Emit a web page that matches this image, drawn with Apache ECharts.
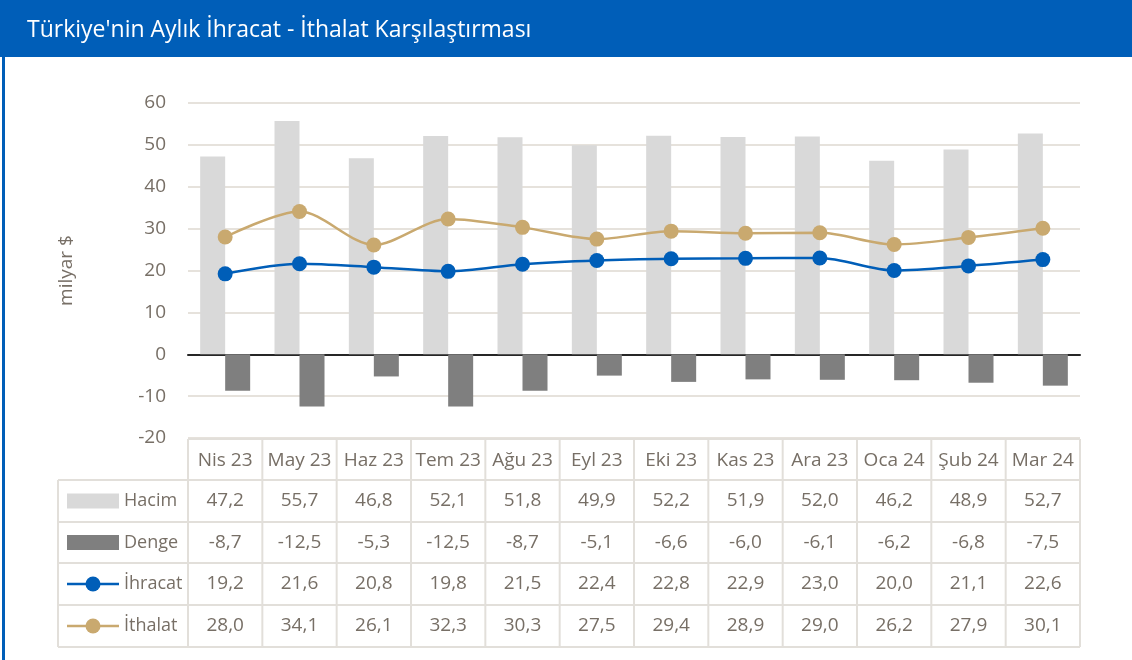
<!DOCTYPE html>
<html>
<head>
<meta charset="utf-8">
<script src="https://cdn.jsdelivr.net/npm/echarts@6/dist/echarts.min.js"></script>
<style>
html,body{margin:0;padding:0;background:#fff;}
#chart{width:1132px;height:660px;}
</style>
</head>
<body>
<div id="chart"></div>
<script>
const titleText = "Türkiye'nin Aylık İhracat - İthalat Karşılaştırması";
const categories = ['Nis 23','May 23','Haz 23','Tem 23','Ağu 23','Eyl 23','Eki 23','Kas 23','Ara 23','Oca 24','Şub 24','Mar 24'];
const hacim = [47.2,55.7,46.8,52.1,51.8,49.9,52.2,51.9,52.0,46.2,48.9,52.7];
const denge = [-8.7,-12.5,-5.3,-12.5,-8.7,-5.1,-6.6,-6.0,-6.1,-6.2,-6.8,-7.5];
const ihracat = [19.2,21.6,20.8,19.8,21.5,22.4,22.8,22.9,23.0,20.0,21.1,22.6];
const ithalat = [28.0,34.1,26.1,32.3,30.3,27.5,29.4,28.9,29.0,26.2,27.9,30.1];
const seriesNames = ['Hacim','Denge','İhracat','İthalat'];
const yTicks = {min:-20, max:60, interval:10};

const C = {
  hacim:'#d9d9d9', denge:'#7f7f7f', ihr:'#005eb8', ith:'#c9a96f',
  text:'#776f66', grid:'#e6e2dc', tbl:'#e2dfda', title:'#005eb8'
};
const FONT = '"Open Sans", "Noto Sans", sans-serif';
const FS = 19;

const chart = echarts.init(document.getElementById('chart'), null, {renderer:'canvas'});
chart.setOption({
  animation:false,
  backgroundColor:'#fff',
  grid:{left:188, right:52, top:103, bottom:222, containLabel:false, outerBoundsMode:'none'},
  xAxis:{
    type:'category', data:categories,
    axisLine:{show:true, onZero:true, lineStyle:{color:'#262626', width:2}},
    axisTick:{show:false}, axisLabel:{show:false}, splitLine:{show:false}
  },
  yAxis:{
    type:'value', min:yTicks.min, max:yTicks.max, interval:yTicks.interval,
    name:'milyar $', nameLocation:'middle', nameGap:112, nameRotate:90,
    nameTextStyle:{color:C.text, fontSize:FS, fontFamily:FONT},
    axisLine:{show:false}, axisTick:{show:false},
    axisLabel:{color:C.text, fontSize:FS, fontFamily:FONT, margin:22},
    splitLine:{show:true, lineStyle:{color:C.grid, width:2}}
  },
  series:[
    {name:seriesNames[0], type:'bar', data:hacim, barWidth:25, barGap:'0%', itemStyle:{color:C.hacim}, z:1},
    {name:seriesNames[1], type:'bar', data:denge, barWidth:25, barGap:'0%', itemStyle:{color:C.denge}, z:1},
    {name:seriesNames[2], type:'line', data:ihracat, smooth:0.3, symbol:'circle', symbolSize:15,
     lineStyle:{color:C.ihr, width:2.5}, itemStyle:{color:C.ihr}, z:5},
    {name:seriesNames[3], type:'line', data:ithalat, smooth:0.3, symbol:'circle', symbolSize:15,
     lineStyle:{color:C.ith, width:2.5}, itemStyle:{color:C.ith}, z:5}
  ]
});

// Build title bar and data table
const fmt = v => v.toFixed(1).replace('.', ',');
const centers = categories.map((c,i)=>chart.convertToPixel({xAxisIndex:0}, i));
const cw = centers[1]-centers[0];
const colL = centers[0]-cw/2, colR = centers[centers.length-1]+cw/2;
const tblL = 58;
const rowY = [439, 480, 522, 563, 605, 647];
const g = [];
// title bar
g.push({type:'rect', shape:{x:0,y:0,width:1132,height:57}, style:{fill:C.title}, z:10});
g.push({type:'text', style:{text:titleText, x:27, y:30, verticalAlign:'middle', fill:'#fff', fontSize:23, fontFamily:FONT}, z:11});
// left border
g.push({type:'rect', shape:{x:2,y:0,width:3,height:660}, style:{fill:C.title}, z:10});
// table lines
const L = (x1,y1,x2,y2)=>g.push({type:'line', shape:{x1,y1,x2,y2}, style:{stroke:C.tbl, lineWidth:2}, z:8});
L(colL, rowY[0], colR, rowY[0]);
for (let r=1;r<rowY.length;r++) L(tblL, rowY[r], colR, rowY[r]);
L(tblL, rowY[1], tblL, rowY[5]);
for (let i=0;i<=categories.length;i++){ const x = colL + i*cw; L(x, rowY[0], x, rowY[5]); }
// header
const T = (text,x,y,align,fs)=>g.push({type:'text', style:{text, x, y, align:align||'center', verticalAlign:'middle', fill:C.text, fontSize:fs||FS, fontFamily:FONT}, z:9});
categories.forEach((c,i)=>T(c, centers[i], (rowY[0]+rowY[1])/2+1));
const rows = [hacim, denge, ihracat, ithalat];
rows.forEach((arr,r)=>{
  const cy = (rowY[r+1]+rowY[r+2])/2;
  arr.forEach((v,i)=>T(fmt(v), centers[i], cy));
  T(seriesNames[r], 124, cy, 'left', 18);
});
// legend keys
const cy0 = (rowY[1]+rowY[2])/2, cy1=(rowY[2]+rowY[3])/2, cy2=(rowY[3]+rowY[4])/2, cy3=(rowY[4]+rowY[5])/2;
g.push({type:'rect', shape:{x:67,y:cy0-7.5,width:52,height:15}, style:{fill:C.hacim}, z:9});
g.push({type:'rect', shape:{x:67,y:cy1-7.5,width:52,height:15}, style:{fill:C.denge}, z:9});
[[cy2,C.ihr],[cy3,C.ith]].forEach(([cy,col])=>{
  g.push({type:'line', shape:{x1:67,y1:cy,x2:119,y2:cy}, style:{stroke:col, lineWidth:2.5}, z:9});
  g.push({type:'circle', shape:{cx:93,cy:cy,r:7.5}, style:{fill:col}, z:9});
});
chart.setOption({graphic:g});
</script>
</body>
</html>
